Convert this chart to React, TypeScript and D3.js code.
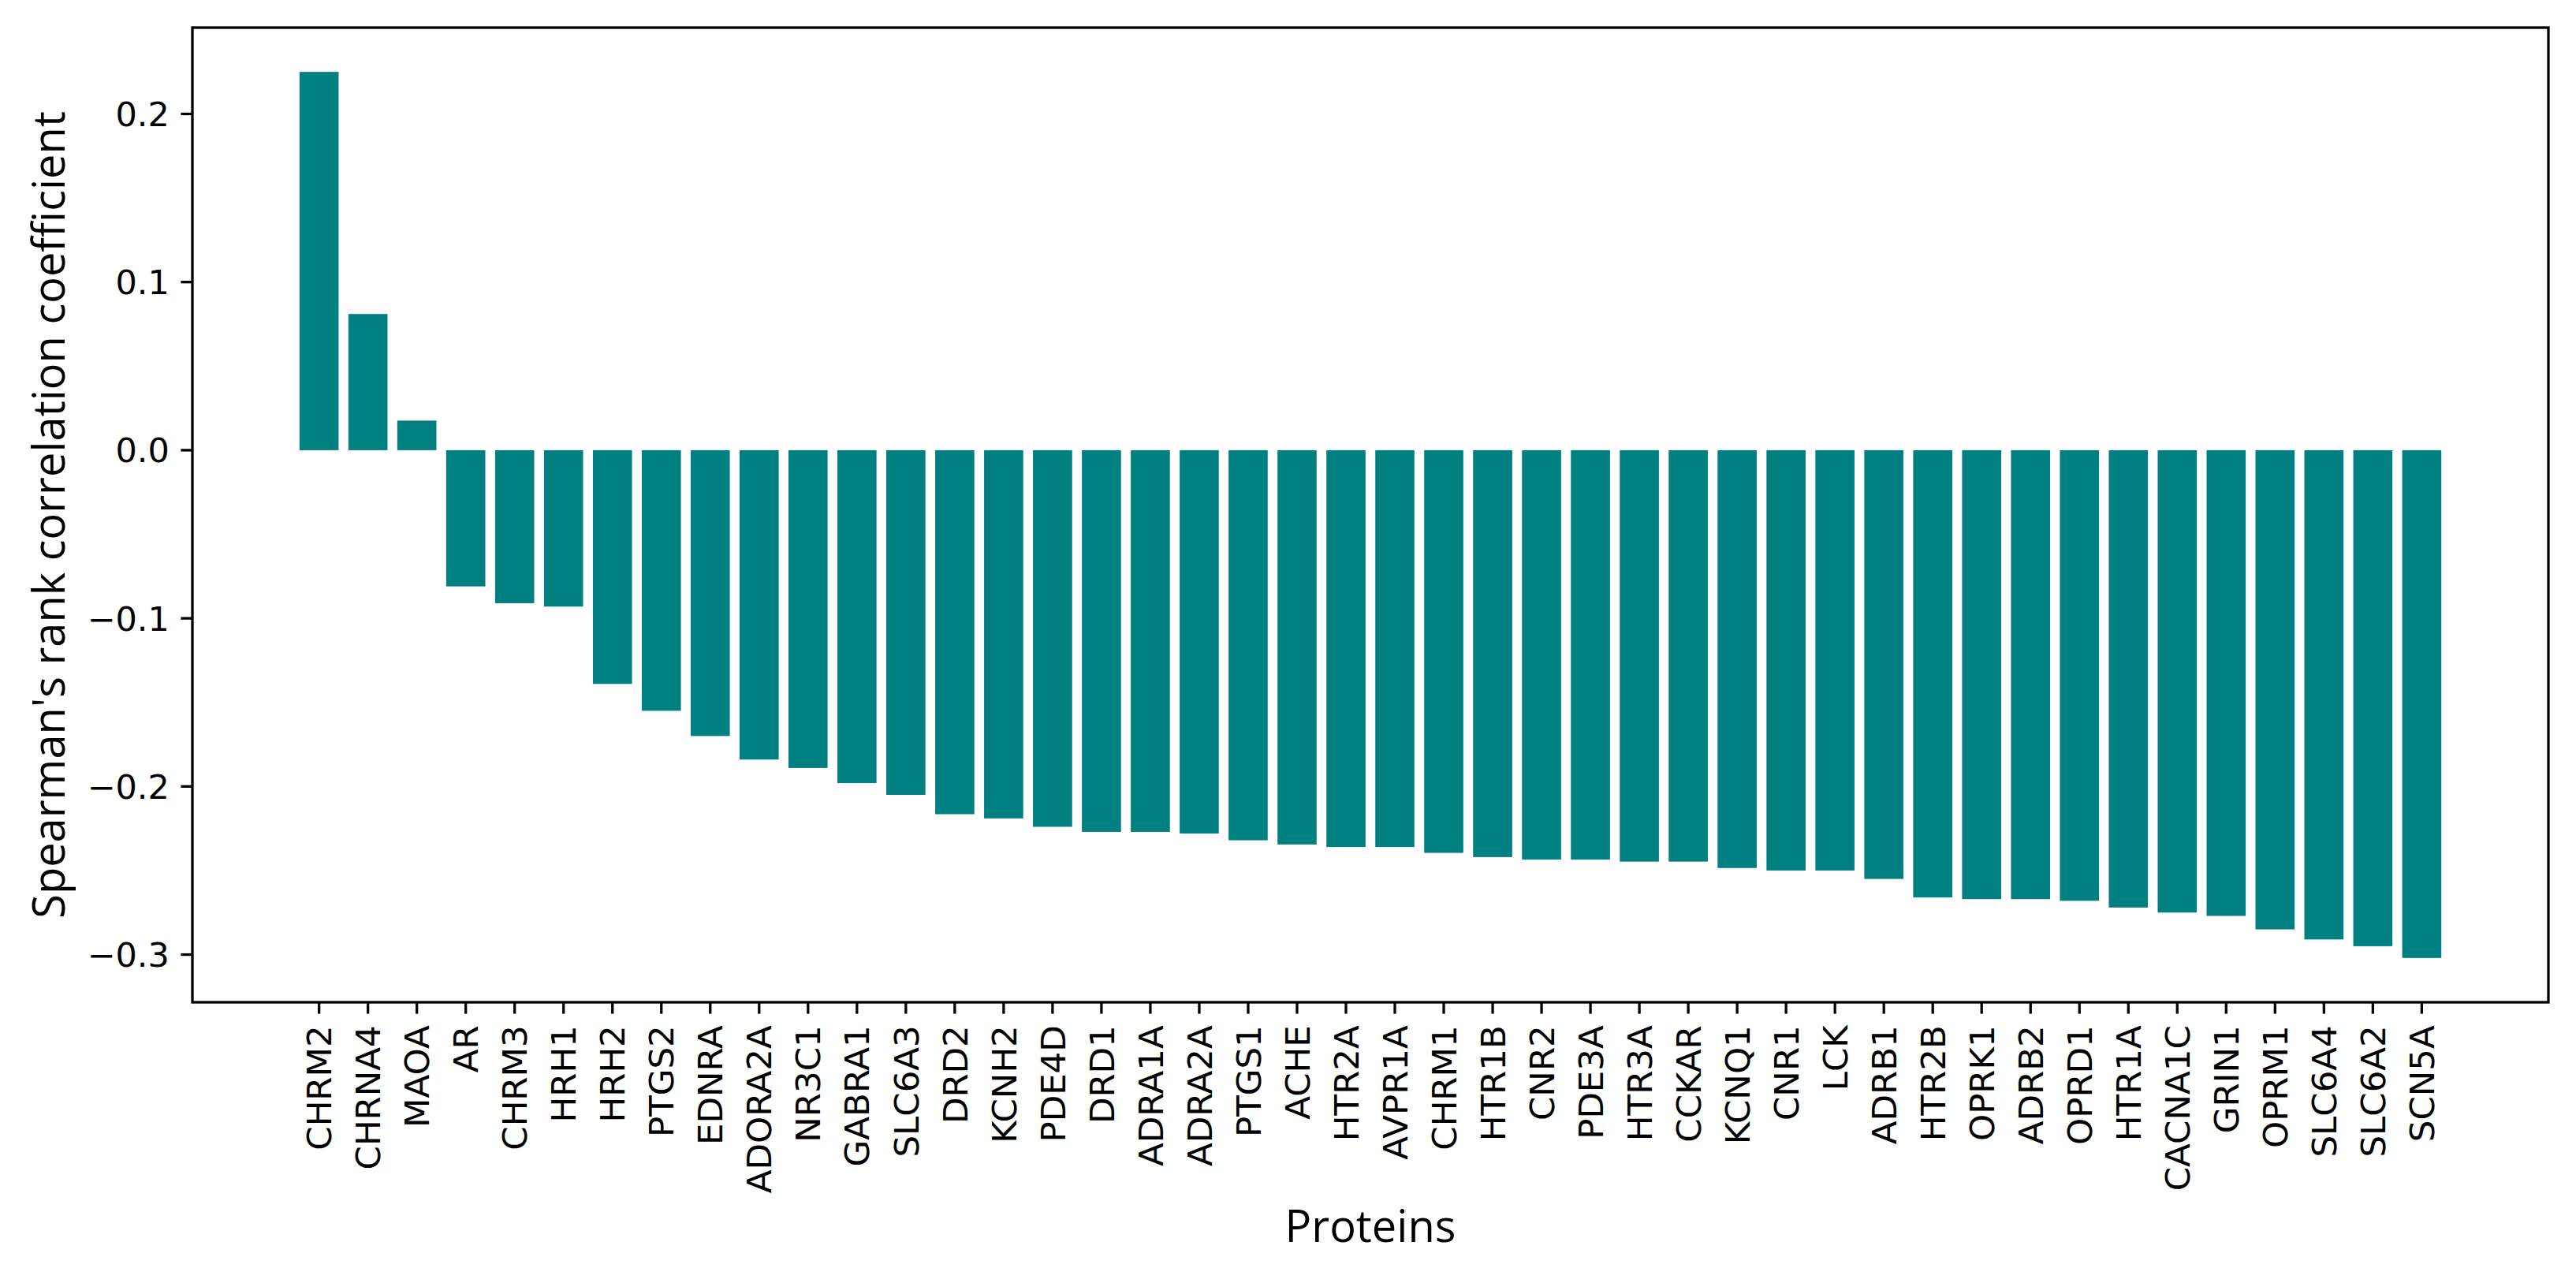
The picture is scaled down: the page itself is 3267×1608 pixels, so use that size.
import { scaleBand, scaleLinear, format, max as d3max, min as d3min } from "d3";

const proteins = [
  "CHRM2", "CHRNA4", "MAOA", "AR", "CHRM3", "HRH1", "HRH2", "PTGS2", "EDNRA", "ADORA2A",
  "NR3C1", "GABRA1", "SLC6A3", "DRD2", "KCNH2", "PDE4D", "DRD1", "ADRA1A", "ADRA2A", "PTGS1",
  "ACHE", "HTR2A", "AVPR1A", "CHRM1", "HTR1B", "CNR2", "PDE3A", "HTR3A", "CCKAR", "KCNQ1",
  "CNR1", "LCK", "ADRB1", "HTR2B", "OPRK1", "ADRB2", "OPRD1", "HTR1A", "CACNA1C", "GRIN1",
  "OPRM1", "SLC6A4", "SLC6A2", "SCN5A",
];

const coefficients = [
  0.225, 0.081, 0.0176, -0.081, -0.091, -0.093, -0.139, -0.155, -0.17, -0.184,
  -0.189, -0.198, -0.205, -0.2165, -0.219, -0.224, -0.227, -0.227, -0.228, -0.232,
  -0.2345, -0.236, -0.236, -0.2395, -0.242, -0.2435, -0.2435, -0.2447, -0.2447, -0.2485,
  -0.25, -0.25, -0.255, -0.266, -0.267, -0.267, -0.268, -0.272, -0.275, -0.277,
  -0.285, -0.291, -0.295, -0.302,
];

const yTicks = [0.2, 0.1, 0.0, -0.1, -0.2, -0.3];

const WIDTH = 3267;
const HEIGHT = 1608;
const AX = { left: 244, right: 3232, top: 35, bottom: 1271 };
const TICK = 14.6;
const PAD = 14.6;
const LINE = 3.3;
const TICK_FONT = "DejaVu Sans, sans-serif";
const LABEL_FONT = "Open Sans, Noto Sans, sans-serif";
const YTICK_FS = 43;
const XTICK_FS = 43.5;
const LABEL_FS = 56;
const BAR = "#008080";

const fmt = format(".1f");

export default function App() {
  const x = scaleBand<string>()
    .domain(proteins)
    .range([AX.left, AX.right])
    .paddingInner(0.2)
    .paddingOuter(2.19);

  const lo = d3min(coefficients) ?? 0;
  const hi = d3max(coefficients) ?? 0;
  const m = (Math.max(hi, 0) - Math.min(lo, 0)) * 0.05;
  const y = scaleLinear()
    .domain([Math.min(lo, 0) - m, Math.max(hi, 0) + m])
    .range([AX.bottom, AX.top]);

  const bw = x.bandwidth();
  const cx = (p: string) => (x(p) ?? 0) + bw / 2;

  return (
    <>
      <style>{`body{margin:0}`}</style>
      <svg width={WIDTH} height={HEIGHT} viewBox={`0 0 ${WIDTH} ${HEIGHT}`} style={{ display: "block", background: "white" }}>
        <rect x={0} y={0} width={WIDTH} height={HEIGHT} fill="white" />

        {proteins.map((p, i) => {
          const v = coefficients[i];
          const y0 = y(0);
          const y1 = y(v);
          return (
            <rect
              key={p}
              x={x(p)}
              y={Math.min(y0, y1)}
              width={bw}
              height={Math.abs(y1 - y0)}
              fill={BAR}
            />
          );
        })}

        {/* frame */}
        <rect
          x={AX.left}
          y={AX.top}
          width={AX.right - AX.left}
          height={AX.bottom - AX.top}
          fill="none"
          stroke="black"
          strokeWidth={LINE}
        />

        {/* y axis */}
        {yTicks.map((t) => (
          <g key={t}>
            <line x1={AX.left - TICK} x2={AX.left} y1={y(t)} y2={y(t)} stroke="black" strokeWidth={LINE} />
            <text
              x={AX.left - TICK - PAD}
              y={y(t)}
              dy="0.36em"
              textAnchor="end"
              fontSize={YTICK_FS}
              fontFamily={TICK_FONT}
              fill="black"
            >
              {fmt(t)}
            </text>
          </g>
        ))}

        {/* x axis */}
        {proteins.map((p) => (
          <g key={p}>
            <line x1={cx(p)} x2={cx(p)} y1={AX.bottom} y2={AX.bottom + TICK} stroke="black" strokeWidth={LINE} />
            <text
              transform={`translate(${cx(p)},${AX.bottom + TICK + PAD}) rotate(-90)`}
              dy="0.36em"
              textAnchor="end"
              fontSize={XTICK_FS}
              fontFamily={TICK_FONT}
              fill="black"
            >
              {p}
            </text>
          </g>
        ))}

        <text
          x={(AX.left + AX.right) / 2}
          y={1575}
          textAnchor="middle"
          fontSize={LABEL_FS}
          fontFamily={LABEL_FONT}
          fill="black"
        >
          Proteins
        </text>

        <text
          transform={`translate(62,${(AX.top + AX.bottom) / 2}) rotate(-90)`}
          dy="0.36em"
          textAnchor="middle"
          fontSize={LABEL_FS}
          fontFamily={LABEL_FONT}
          fill="black"
        >
          Spearman's rank correlation coefficient
        </text>
      </svg>
    </>
  );
}
